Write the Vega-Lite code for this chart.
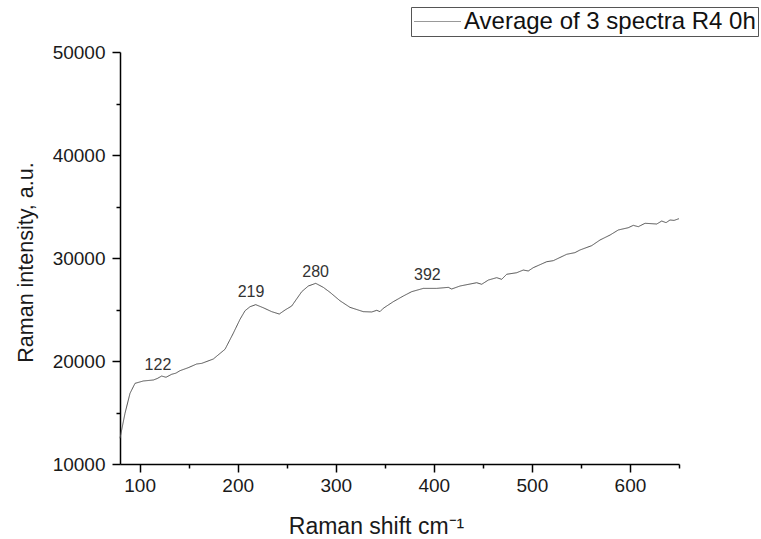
{
  "$schema": "https://vega.github.io/schema/vega-lite/v6.json",
  "autosize": {"type": "none"},
  "width": 559,
  "height": 412,
  "padding": {"left": 120, "top": 52, "right": 82, "bottom": 75},
  "background": "white",
  "config": {
    "view": {"stroke": null},
    "font": "Liberation Sans"
  },
  "datasets": {
    "spectrum": [
      {"shift": 80, "intensity": 12500},
      {"shift": 85.1, "intensity": 14920},
      {"shift": 90.2, "intensity": 16860},
      {"shift": 95.3, "intensity": 17830},
      {"shift": 103.8, "intensity": 18060},
      {"shift": 114.0, "intensity": 18155},
      {"shift": 118.0, "intensity": 18300},
      {"shift": 122.5, "intensity": 18540},
      {"shift": 126.9, "intensity": 18420},
      {"shift": 132.7, "intensity": 18710},
      {"shift": 137.0, "intensity": 18820},
      {"shift": 141.2, "intensity": 19060},
      {"shift": 149.6, "intensity": 19350},
      {"shift": 158.2, "intensity": 19710},
      {"shift": 163.3, "intensity": 19770},
      {"shift": 175.1, "intensity": 20190},
      {"shift": 187.1, "intensity": 21140},
      {"shift": 195.5, "intensity": 22690},
      {"shift": 202.4, "intensity": 24050},
      {"shift": 207.5, "intensity": 24880},
      {"shift": 212.6, "intensity": 25270},
      {"shift": 218.4, "intensity": 25470},
      {"shift": 226.1, "intensity": 25170},
      {"shift": 234.7, "intensity": 24790},
      {"shift": 242.4, "intensity": 24560},
      {"shift": 248.3, "intensity": 24950},
      {"shift": 255.1, "intensity": 25340},
      {"shift": 265.3, "intensity": 26730},
      {"shift": 272.0, "intensity": 27280},
      {"shift": 279.6, "intensity": 27540},
      {"shift": 287.3, "intensity": 27150},
      {"shift": 294.1, "intensity": 26670},
      {"shift": 304.3, "intensity": 25850},
      {"shift": 314.5, "intensity": 25210},
      {"shift": 328.1, "intensity": 24790},
      {"shift": 336.7, "intensity": 24760},
      {"shift": 341.8, "intensity": 24920},
      {"shift": 345.1, "intensity": 24790},
      {"shift": 348.5, "intensity": 25120},
      {"shift": 358.7, "intensity": 25760},
      {"shift": 368.9, "intensity": 26310},
      {"shift": 377.4, "intensity": 26730},
      {"shift": 389.3, "intensity": 27050},
      {"shift": 402.9, "intensity": 27050},
      {"shift": 414.8, "intensity": 27150},
      {"shift": 418.2, "intensity": 26990},
      {"shift": 426.7, "intensity": 27280},
      {"shift": 443.7, "intensity": 27600},
      {"shift": 448.8, "intensity": 27450},
      {"shift": 455.6, "intensity": 27860},
      {"shift": 464.1, "intensity": 28090},
      {"shift": 469.2, "intensity": 27930},
      {"shift": 474.3, "intensity": 28420},
      {"shift": 484.5, "intensity": 28570},
      {"shift": 491.2, "intensity": 28830},
      {"shift": 496.3, "intensity": 28740},
      {"shift": 501.4, "intensity": 29060},
      {"shift": 515.1, "intensity": 29640},
      {"shift": 521.8, "intensity": 29740},
      {"shift": 535.5, "intensity": 30360},
      {"shift": 543.9, "intensity": 30520},
      {"shift": 549.1, "intensity": 30780},
      {"shift": 561.0, "intensity": 31200},
      {"shift": 569.5, "intensity": 31750},
      {"shift": 579.7, "intensity": 32230},
      {"shift": 588.1, "intensity": 32720},
      {"shift": 598.3, "intensity": 32940},
      {"shift": 603.4, "intensity": 33170},
      {"shift": 608.5, "intensity": 33040},
      {"shift": 615.4, "intensity": 33370},
      {"shift": 627.3, "intensity": 33300},
      {"shift": 632.4, "intensity": 33590},
      {"shift": 636.8, "intensity": 33430},
      {"shift": 640.8, "intensity": 33690},
      {"shift": 645.0, "intensity": 33650},
      {"shift": 650.0, "intensity": 33820}
    ],
    "peaks": [
      {"shift": 118.7, "intensity": 19126, "label": "122"},
      {"shift": 213.6, "intensity": 26214, "label": "219"},
      {"shift": 279.5, "intensity": 28184, "label": "280"},
      {"shift": 393.4, "intensity": 27864, "label": "392"}
    ]
  },
  "layer": [
    {
      "data": {"name": "spectrum"},
      "mark": {"type": "line", "strokeWidth": 1, "interpolate": "linear", "color": "#505050"},
      "encoding": {
        "x": {
          "field": "shift", "type": "quantitative",
          "scale": {"domain": [80, 650], "nice": false, "zero": false},
          "axis": {
            "title": "Raman shift cm⁻¹",
            "values": [100, 150, 200, 250, 300, 350, 400, 450, 500, 550, 600, 650],
            "labelExpr": "datum.value % 100 == 0 ? datum.label : ''",
            "labelOverlap": false,
            "format": "d",
            "grid": false,
            "domainColor": "#000", "domainWidth": 1.5,
            "tickColor": "#000", "tickWidth": 1.5,
            "tickSize": {"condition": {"test": "datum.value % 100 != 0", "value": 4}, "value": 8},
            "labelFont": "Liberation Sans", "labelFontSize": 19, "labelColor": "#1a1a1a",
            "labelPadding": 4,
            "titleFont": "Liberation Sans", "titleFontSize": 23, "titleFontWeight": "normal", "titleColor": "#1a1a1a",
            "titleX": 256, "titleY": 69, "titleAlign": "center", "titleBaseline": "alphabetic"
          }
        },
        "y": {
          "field": "intensity", "type": "quantitative",
          "scale": {"domain": [10000, 50000], "nice": false, "zero": false},
          "axis": {
            "title": "Raman intensity, a.u.",
            "values": [10000, 15000, 20000, 25000, 30000, 35000, 40000, 45000, 50000],
            "labelExpr": "datum.value % 10000 == 0 ? datum.label : ''",
            "labelOverlap": false,
            "format": "d",
            "grid": false,
            "domainColor": "#000", "domainWidth": 1.5,
            "tickColor": "#000", "tickWidth": 1.5,
            "tickSize": {"condition": {"test": "datum.value % 10000 != 0", "value": 4}, "value": 8},
            "labelFont": "Liberation Sans", "labelFontSize": 19, "labelColor": "#1a1a1a",
            "labelPadding": 7,
            "titleFont": "Liberation Sans", "titleFontSize": 21.5, "titleFontWeight": "normal", "titleColor": "#1a1a1a",
            "titleAngle": -90, "titleX": -88, "titleY": 210, "titleAlign": "center", "titleBaseline": "alphabetic"
          }
        },
        "strokeDash": {
          "datum": "Average of 3 spectra R4 0h",
          "type": "nominal",
          "scale": {"range": [[1, 0]]},
          "legend": {
            "title": null,
            "orient": "none",
            "legendX": 291,
            "legendY": -45,
            "direction": "vertical",
            "strokeColor": "#555",
            "fillColor": "white",
            "padding": 2,
            "symbolType": "stroke",
            "symbolSize": 2209,
            "symbolStrokeWidth": 1.2,
            "symbolStrokeColor": "#999999",
            "clipHeight": 25,
            "labelFont": "Liberation Sans",
            "labelFontSize": 24,
            "labelColor": "#111",
            "labelOffset": 2,
            "labelLimit": 400
          }
        }
      }
    },
    {
      "data": {"name": "peaks"},
      "mark": {"type": "text", "baseline": "alphabetic", "align": "center", "fontSize": 16, "font": "Liberation Sans", "color": "#333"},
      "encoding": {
        "x": {"field": "shift", "type": "quantitative"},
        "y": {"field": "intensity", "type": "quantitative"},
        "text": {"field": "label", "type": "nominal"}
      }
    }
  ]
}
